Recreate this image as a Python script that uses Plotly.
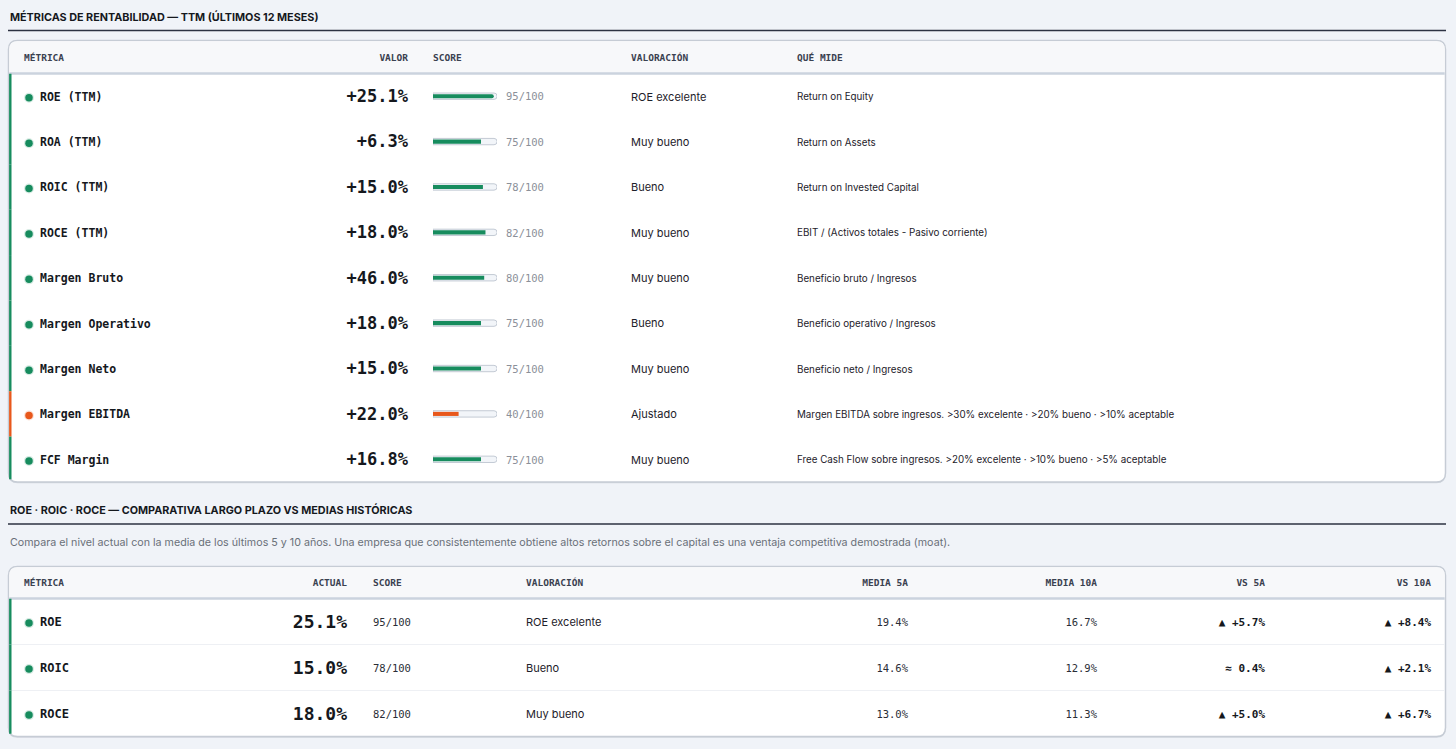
import plotly.graph_objects as go

W, H = 1456, 749

# ---- data: tabla 1 (TTM) ----
metricas = ["ROE (TTM)", "ROA (TTM)", "ROIC (TTM)", "ROCE (TTM)", "Margen Bruto",
            "Margen Operativo", "Margen Neto", "Margen EBITDA", "FCF Margin"]
valores = [25.1, 6.3, 15.0, 18.0, 46.0, 18.0, 15.0, 22.0, 16.8]
scores = [95, 75, 78, 82, 80, 75, 75, 40, 75]
estado = ["ok", "ok", "ok", "ok", "ok", "ok", "ok", "warn", "ok"]
valoracion = ["ROE excelente", "Muy bueno", "Bueno", "Muy bueno", "Muy bueno",
              "Bueno", "Muy bueno", "Ajustado", "Muy bueno"]
que_mide = ["Return on Equity", "Return on Assets", "Return on Invested Capital",
            "EBIT / (Activos totales - Pasivo corriente)", "Beneficio bruto / Ingresos",
            "Beneficio operativo / Ingresos", "Beneficio neto / Ingresos",
            "Margen EBITDA sobre ingresos. >30% excelente · >20% bueno · >10% aceptable",
            "Free Cash Flow sobre ingresos. >20% excelente · >10% bueno · >5% aceptable"]

# ---- data: tabla 2 (largo plazo) ----
metricas_lp = ["ROE", "ROIC", "ROCE"]
actual_lp = [25.1, 15.0, 18.0]
scores_lp = [95, 78, 82]
estado_lp = ["ok", "ok", "ok"]
valoracion_lp = ["ROE excelente", "Bueno", "Muy bueno"]
media_5a = [19.4, 14.6, 13.0]
media_10a = [16.7, 12.9, 11.3]
vs_5a = [5.7, 0.4, 5.0]
vs_10a = [8.4, 2.1, 6.7]

titulo1 = "MÉTRICAS DE RENTABILIDAD — TTM (ÚLTIMOS 12 MESES)"
titulo2 = "ROE · ROIC · ROCE — COMPARATIVA LARGO PLAZO VS MEDIAS HISTÓRICAS"
subtitulo2 = ("Compara el nivel actual con la media de los últimos 5 y 10 años. Una empresa que "
              "consistentemente obtiene altos retornos sobre el capital es una ventaja competitiva demostrada (moat).")

# ---- styles ----
BG = "#f0f3f8"
GREEN = "#178c5e"
ORANGE = "#e8581c"
STATUS = {"ok": GREEN, "warn": ORANGE}
HALO = {"ok": "rgba(23,140,94,0.18)", "warn": "rgba(232,88,28,0.18)"}
MONO = "DejaVu Sans Mono"
SANS = "Inter"
DARK = "#15181d"

# card geometry (pixels)
X0, X1 = 8.5, 1445.5
T1_TOP, T1_HEAD, T1_BOT = 40.5, 73.5, 482
T2_TOP, T2_HEAD, T2_BOT = 566.5, 598.5, 736.5
TXT_SHIFT = 1.6  # text sits a bit low in the rows

fig = go.Figure()


def text_col(x, y, texts, yaxis, size, color, family=MONO, weight=400, align="left"):
    fig.add_trace(go.Scatter(
        x=[x] * len(texts), y=y, text=texts, mode="text",
        textposition="middle right" if align == "left" else "middle left",
        textfont=dict(family=family, size=size, color=color, weight=weight),
        xaxis="x", yaxis=yaxis, hoverinfo="skip", showlegend=False))


def rounded(x0, y0, x1, y1, r, top_only=False):
    if top_only:
        return (f"M{x0},{y1} L{x0},{y0 + r} Q{x0},{y0} {x0 + r},{y0} L{x1 - r},{y0} "
                f"Q{x1},{y0} {x1},{y0 + r} L{x1},{y1} Z")
    return (f"M{x0 + r},{y0} L{x1 - r},{y0} Q{x1},{y0} {x1},{y0 + r} L{x1},{y1 - r} "
            f"Q{x1},{y1} {x1 - r},{y1} L{x0 + r},{y1} Q{x0},{y1} {x0},{y1 - r} "
            f"L{x0},{y0 + r} Q{x0},{y0} {x0 + r},{y0} Z")


shapes = []
for top, head, bot in [(T1_TOP, T1_HEAD, T1_BOT), (T2_TOP, T2_HEAD, T2_BOT)]:
    shapes.append(dict(type="path", path=rounded(X0, top + 1.5, X1, bot + 1.2, 9), xref="x", yref="y",
                       fillcolor="#d3d8df", line=dict(width=0), layer="below"))
    shapes.append(dict(type="path", path=rounded(X0, top, X1, bot, 9), xref="x", yref="y",
                       fillcolor="white", line=dict(color="#c6ccd5", width=1.5), layer="below"))
    shapes.append(dict(type="path", path=rounded(X0 + 0.8, top + 0.8, X1 - 0.8, head, 8, top_only=True),
                       xref="x", yref="y", fillcolor="#f7f8fa", line=dict(width=0), layer="below"))
    shapes.append(dict(type="line", x0=X0 + 0.8, x1=X1 - 0.8, y0=head, y1=head, xref="x", yref="y",
                       line=dict(color="#cbd3de", width=2.5), layer="below"))

# title rules
for yl in [30.5, 524]:
    shapes.append(dict(type="line", x0=8, x1=1446, y0=yl, y1=yl, xref="x", yref="y",
                       line=dict(color="#2c3242", width=1.6)))

# row separators + left accent, table 1 (y2) and table 2 (y3)
for yref, st in [("y2", estado), ("y3", estado_lp)]:
    n = len(st)
    for i in range(n):
        if i < n - 1:
            shapes.append(dict(type="line", x0=X0 + 3, x1=X1 - 1, y0=i + 0.5, y1=i + 0.5, xref="x", yref=yref,
                               line=dict(color="#eef0f4", width=1.2), layer="below"))
        shapes.append(dict(type="rect", x0=X0 + 0.6, x1=X0 + 3, y0=i - 0.5, y1=i + 0.5 - (0.06 if i == n - 1 else 0),
                           xref="x", yref=yref, fillcolor=STATUS[st[i]], line=dict(width=0)))

# ---- table 1 ----
head1 = 0.5 * (T1_TOP + T1_HEAD) + TXT_SHIFT
for x, lab, al in [(24, "MÉTRICA", "left"), (408, "VALOR", "right"), (433, "SCORE", "left"),
                   (631, "VALORACIÓN", "left"), (797, "QUÉ MIDE", "left")]:
    text_col(x, [head1], [lab], "y", 9.5, "#3a4150", weight=700, align=al)

# score bars: track + fill
fig.add_trace(go.Bar(
    x=[100] * len(metricas), y=metricas, orientation="h", xaxis="x2", yaxis="y2", width=0.14,
    marker=dict(color="#f2f5f9", line=dict(color="#c3cad4", width=1)),
    hoverinfo="skip", showlegend=False))
fig.add_trace(go.Bar(
    x=scores, y=metricas, orientation="h", xaxis="x2", yaxis="y2", width=0.09,
    marker=dict(color=[STATUS[s] for s in estado], line=dict(width=0)),
    hoverinfo="skip", showlegend=False))

fig.add_trace(go.Scatter(
    x=[29] * len(metricas), y=metricas, mode="markers", xaxis="x", yaxis="y4",
    marker=dict(size=7.5, color=[STATUS[s] for s in estado],
                line=dict(width=2.5, color=[HALO[s] for s in estado])),
    hoverinfo="skip", showlegend=False))
text_col(40, metricas, metricas, "y4", 11.5, DARK, weight=700)
text_col(408, metricas, [f"{v:+.1f}%" for v in valores], "y4", 17, DARK, weight=700, align="right")
text_col(506, metricas, [f"{s}/100" for s in scores], "y4", 10.5, "#8b9099")
text_col(631, metricas, valoracion, "y4", 11, "#1d212a", family=SANS)
text_col(797, metricas, que_mide, "y4", 9.8, "#1d212a", family=SANS)

# ---- table 2 ----
head2 = 0.5 * (T2_TOP + T2_HEAD) + TXT_SHIFT
for x, lab, al in [(24, "MÉTRICA", "left"), (347, "ACTUAL", "right"), (373, "SCORE", "left"),
                   (526, "VALORACIÓN", "left"), (908, "MEDIA 5A", "right"), (1097, "MEDIA 10A", "right"),
                   (1265, "VS 5A", "right"), (1431, "VS 10A", "right")]:
    text_col(x, [head2], [lab], "y", 9.5, "#3a4150", weight=700, align=al)

fig.add_trace(go.Scatter(
    x=[29] * len(metricas_lp), y=metricas_lp, mode="markers", xaxis="x", yaxis="y5",
    marker=dict(size=7.5, color=[STATUS[s] for s in estado_lp],
                line=dict(width=2.5, color=[HALO[s] for s in estado_lp])),
    hoverinfo="skip", showlegend=False))
text_col(40, metricas_lp, metricas_lp, "y5", 12, DARK, weight=700)
text_col(347, metricas_lp, [f"{v:.1f}%" for v in actual_lp], "y5", 18, DARK, weight=700, align="right")
text_col(373, metricas_lp, [f"{s}/100" for s in scores_lp], "y5", 10.5, "#2a2e36")
text_col(526, metricas_lp, valoracion_lp, "y5", 11, "#1d212a", family=SANS)
text_col(908, metricas_lp, [f"{v:.1f}%" for v in media_5a], "y5", 10.5, "#2a2e36", align="right")
text_col(1097, metricas_lp, [f"{v:.1f}%" for v in media_10a], "y5", 10.5, "#2a2e36", align="right")


def delta(v):
    return f"▲ +{v:.1f}%" if v >= 1 else f"≈ {v:.1f}%"


text_col(1265, metricas_lp, [delta(v) for v in vs_5a], "y5", 11, DARK, weight=700, align="right")
text_col(1431, metricas_lp, [delta(v) for v in vs_10a], "y5", 11, DARK, weight=700, align="right")

# titles
annotations = [
    dict(x=8, y=17, text=f"<b>{titulo1}</b>", xref="x", yref="y", xanchor="left", yanchor="middle",
         showarrow=False, font=dict(family=SANS, size=10.8, color=DARK)),
    dict(x=8, y=510, text=f"<b>{titulo2}</b>", xref="x", yref="y", xanchor="left", yanchor="middle",
         showarrow=False, font=dict(family=SANS, size=10.8, color=DARK)),
    dict(x=8, y=542, text=subtitulo2, xref="x", yref="y", xanchor="left", yanchor="middle",
         showarrow=False, font=dict(family=SANS, size=10.7, color="#6a7079")),
]


def row_axis(cats, top, bot, shift=0.0):
    return dict(type="category", categoryarray=cats, range=[len(cats) - 0.5, -0.5],
                domain=[1 - (bot + shift) / H, 1 - (top + shift) / H], anchor="x", **hidden)


hidden = dict(visible=False, showgrid=False, zeroline=False, fixedrange=True)
fig.update_layout(
    width=W, height=H, margin=dict(l=0, r=0, t=0, b=0),
    paper_bgcolor=BG, plot_bgcolor="rgba(0,0,0,0)",
    barmode="overlay", barcornerradius=3,
    shapes=shapes, annotations=annotations,
    xaxis=dict(range=[0, W], domain=[0, 1], **hidden),
    yaxis=dict(range=[H, 0], domain=[0, 1], **hidden),
    xaxis2=dict(range=[0, 100], domain=[433 / W, 497 / W], anchor="y2", **hidden),
    yaxis2=row_axis(metricas, T1_HEAD, T1_BOT),
    yaxis3=row_axis(metricas_lp, T2_HEAD, T2_BOT),
    yaxis4=row_axis(metricas, T1_HEAD, T1_BOT, TXT_SHIFT),
    yaxis5=row_axis(metricas_lp, T2_HEAD, T2_BOT, TXT_SHIFT),
)

fig.write_html("out.html", config={"displayModeBar": False},
               post_script="document.body.style.margin='0';document.body.style.overflow='hidden';")
